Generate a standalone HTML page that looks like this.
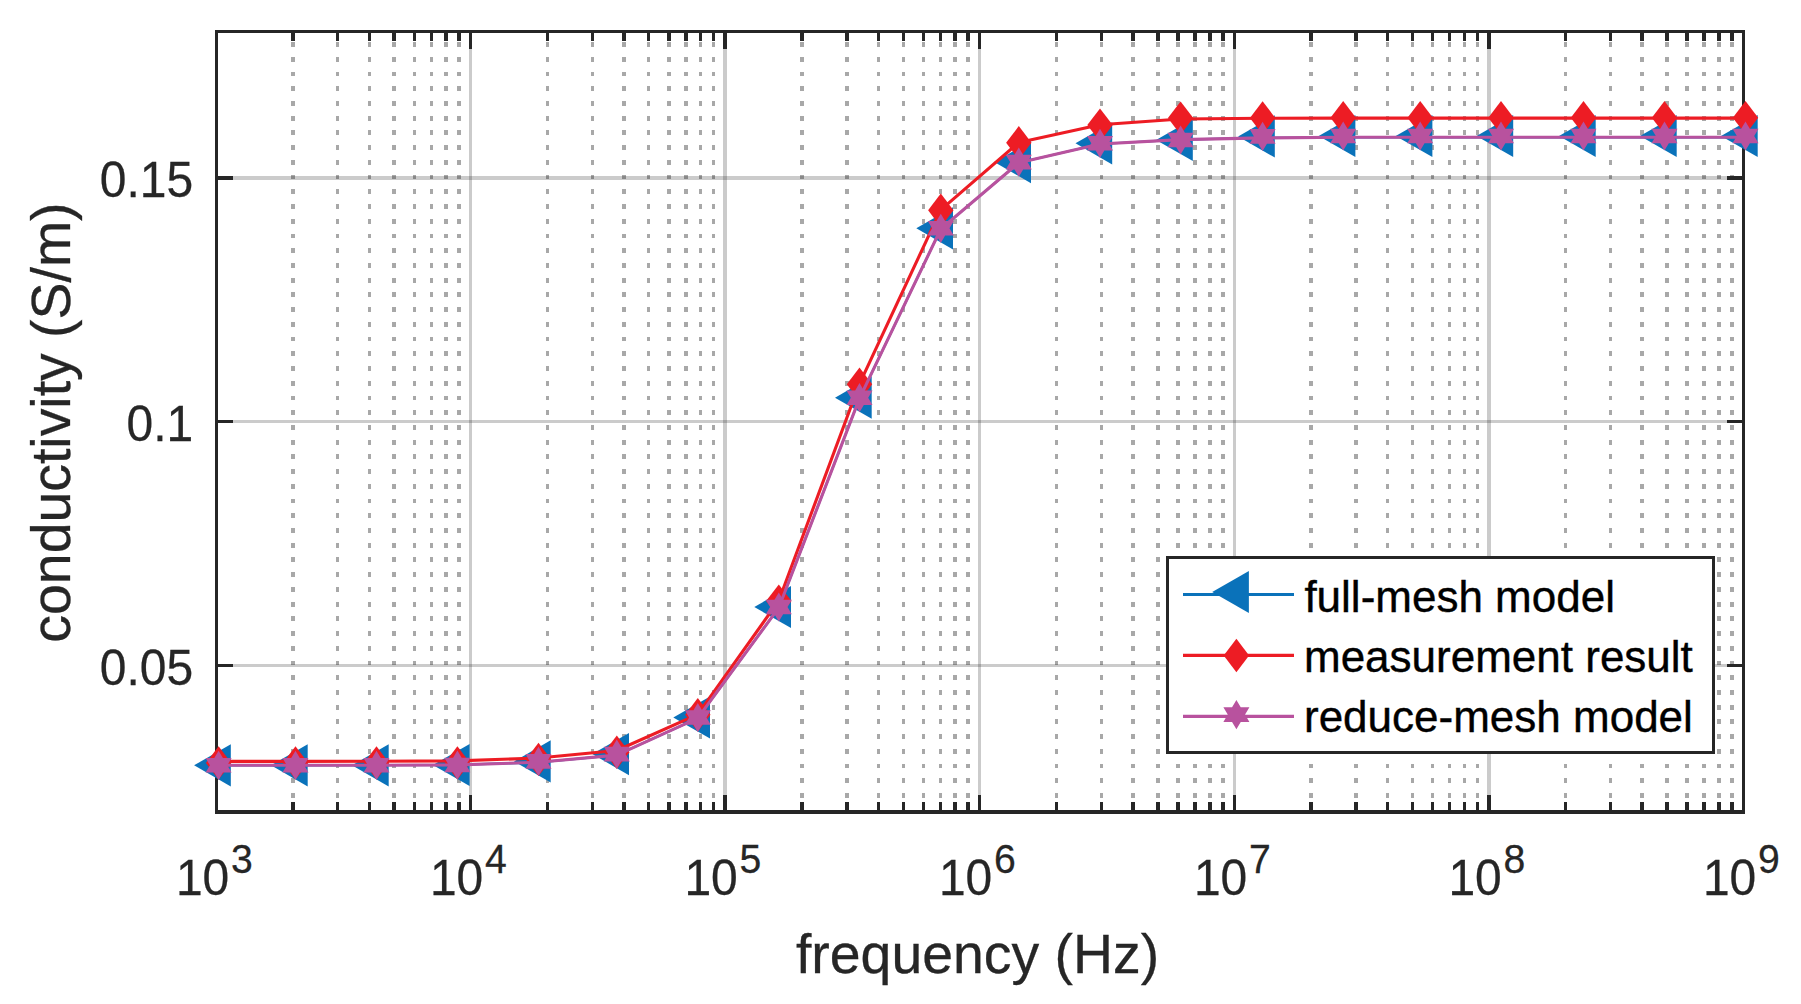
<!DOCTYPE html>
<html lang="en"><head><meta charset="utf-8"><title>conductivity vs frequency</title>
<style>html,body{margin:0;padding:0;background:#fff;overflow:hidden}svg{display:block}text{font-family:"Liberation Sans",Arial,Helvetica,sans-serif}</style>
</head><body>
<svg width="1801" height="1004" viewBox="0 0 1801 1004">
<rect x="0" y="0" width="1801" height="1004" fill="#fff"/>
<g stroke="#262626" stroke-opacity="0.40" stroke-width="3.33" stroke-dasharray="4.85 9.875" fill="none" shape-rendering="crispEdges">
<line x1="293.00" y1="42.1" x2="293.00" y2="801.00"/>
<line x1="337.50" y1="42.1" x2="337.50" y2="801.00"/>
<line x1="369.50" y1="42.1" x2="369.50" y2="801.00"/>
<line x1="394.00" y1="42.1" x2="394.00" y2="801.00"/>
<line x1="414.50" y1="42.1" x2="414.50" y2="801.00"/>
<line x1="431.50" y1="42.1" x2="431.50" y2="801.00"/>
<line x1="446.00" y1="42.1" x2="446.00" y2="801.00"/>
<line x1="459.00" y1="42.1" x2="459.00" y2="801.00"/>
<line x1="547.50" y1="42.1" x2="547.50" y2="801.00"/>
<line x1="592.50" y1="42.1" x2="592.50" y2="801.00"/>
<line x1="624.00" y1="42.1" x2="624.00" y2="801.00"/>
<line x1="648.50" y1="42.1" x2="648.50" y2="801.00"/>
<line x1="669.00" y1="42.1" x2="669.00" y2="801.00"/>
<line x1="686.00" y1="42.1" x2="686.00" y2="801.00"/>
<line x1="700.50" y1="42.1" x2="700.50" y2="801.00"/>
<line x1="713.50" y1="42.1" x2="713.50" y2="801.00"/>
<line x1="802.00" y1="42.1" x2="802.00" y2="801.00"/>
<line x1="847.00" y1="42.1" x2="847.00" y2="801.00"/>
<line x1="878.50" y1="42.1" x2="878.50" y2="801.00"/>
<line x1="903.50" y1="42.1" x2="903.50" y2="801.00"/>
<line x1="923.50" y1="42.1" x2="923.50" y2="801.00"/>
<line x1="940.50" y1="42.1" x2="940.50" y2="801.00"/>
<line x1="955.00" y1="42.1" x2="955.00" y2="801.00"/>
<line x1="968.00" y1="42.1" x2="968.00" y2="801.00"/>
<line x1="1056.50" y1="42.1" x2="1056.50" y2="801.00"/>
<line x1="1101.50" y1="42.1" x2="1101.50" y2="801.00"/>
<line x1="1133.00" y1="42.1" x2="1133.00" y2="801.00"/>
<line x1="1158.00" y1="42.1" x2="1158.00" y2="801.00"/>
<line x1="1178.00" y1="42.1" x2="1178.00" y2="801.00"/>
<line x1="1195.00" y1="42.1" x2="1195.00" y2="801.00"/>
<line x1="1210.00" y1="42.1" x2="1210.00" y2="801.00"/>
<line x1="1223.00" y1="42.1" x2="1223.00" y2="801.00"/>
<line x1="1311.00" y1="42.1" x2="1311.00" y2="801.00"/>
<line x1="1356.00" y1="42.1" x2="1356.00" y2="801.00"/>
<line x1="1387.50" y1="42.1" x2="1387.50" y2="801.00"/>
<line x1="1412.50" y1="42.1" x2="1412.50" y2="801.00"/>
<line x1="1432.50" y1="42.1" x2="1432.50" y2="801.00"/>
<line x1="1449.50" y1="42.1" x2="1449.50" y2="801.00"/>
<line x1="1464.50" y1="42.1" x2="1464.50" y2="801.00"/>
<line x1="1477.50" y1="42.1" x2="1477.50" y2="801.00"/>
<line x1="1565.50" y1="42.1" x2="1565.50" y2="801.00"/>
<line x1="1610.50" y1="42.1" x2="1610.50" y2="801.00"/>
<line x1="1642.00" y1="42.1" x2="1642.00" y2="801.00"/>
<line x1="1667.00" y1="42.1" x2="1667.00" y2="801.00"/>
<line x1="1687.00" y1="42.1" x2="1687.00" y2="801.00"/>
<line x1="1704.00" y1="42.1" x2="1704.00" y2="801.00"/>
<line x1="1719.00" y1="42.1" x2="1719.00" y2="801.00"/>
<line x1="1732.00" y1="42.1" x2="1732.00" y2="801.00"/>
</g>
<g stroke="#262626" stroke-opacity="0.24" stroke-width="3.33" fill="none" shape-rendering="crispEdges">
<line x1="470.50" y1="31.5" x2="470.50" y2="812.0"/>
<line x1="725.00" y1="31.5" x2="725.00" y2="812.0"/>
<line x1="979.50" y1="31.5" x2="979.50" y2="812.0"/>
<line x1="1234.50" y1="31.5" x2="1234.50" y2="812.0"/>
<line x1="1489.00" y1="31.5" x2="1489.00" y2="812.0"/>
<line x1="216.5" y1="665.50" x2="1743.5" y2="665.50"/>
<line x1="216.5" y1="421.50" x2="1743.5" y2="421.50"/>
<line x1="216.5" y1="178.00" x2="1743.5" y2="178.00"/>
</g>
<g stroke="#262626" stroke-width="3.33" fill="none" shape-rendering="crispEdges">
<line x1="293.00" y1="31.5" x2="293.00" y2="41"/>
<line x1="293.00" y1="812.0" x2="293.00" y2="802"/>
<line x1="337.50" y1="31.5" x2="337.50" y2="41"/>
<line x1="337.50" y1="812.0" x2="337.50" y2="802"/>
<line x1="369.50" y1="31.5" x2="369.50" y2="41"/>
<line x1="369.50" y1="812.0" x2="369.50" y2="802"/>
<line x1="394.00" y1="31.5" x2="394.00" y2="41"/>
<line x1="394.00" y1="812.0" x2="394.00" y2="802"/>
<line x1="414.50" y1="31.5" x2="414.50" y2="41"/>
<line x1="414.50" y1="812.0" x2="414.50" y2="802"/>
<line x1="431.50" y1="31.5" x2="431.50" y2="41"/>
<line x1="431.50" y1="812.0" x2="431.50" y2="802"/>
<line x1="446.00" y1="31.5" x2="446.00" y2="41"/>
<line x1="446.00" y1="812.0" x2="446.00" y2="802"/>
<line x1="459.00" y1="31.5" x2="459.00" y2="41"/>
<line x1="459.00" y1="812.0" x2="459.00" y2="802"/>
<line x1="547.50" y1="31.5" x2="547.50" y2="41"/>
<line x1="547.50" y1="812.0" x2="547.50" y2="802"/>
<line x1="592.50" y1="31.5" x2="592.50" y2="41"/>
<line x1="592.50" y1="812.0" x2="592.50" y2="802"/>
<line x1="624.00" y1="31.5" x2="624.00" y2="41"/>
<line x1="624.00" y1="812.0" x2="624.00" y2="802"/>
<line x1="648.50" y1="31.5" x2="648.50" y2="41"/>
<line x1="648.50" y1="812.0" x2="648.50" y2="802"/>
<line x1="669.00" y1="31.5" x2="669.00" y2="41"/>
<line x1="669.00" y1="812.0" x2="669.00" y2="802"/>
<line x1="686.00" y1="31.5" x2="686.00" y2="41"/>
<line x1="686.00" y1="812.0" x2="686.00" y2="802"/>
<line x1="700.50" y1="31.5" x2="700.50" y2="41"/>
<line x1="700.50" y1="812.0" x2="700.50" y2="802"/>
<line x1="713.50" y1="31.5" x2="713.50" y2="41"/>
<line x1="713.50" y1="812.0" x2="713.50" y2="802"/>
<line x1="802.00" y1="31.5" x2="802.00" y2="41"/>
<line x1="802.00" y1="812.0" x2="802.00" y2="802"/>
<line x1="847.00" y1="31.5" x2="847.00" y2="41"/>
<line x1="847.00" y1="812.0" x2="847.00" y2="802"/>
<line x1="878.50" y1="31.5" x2="878.50" y2="41"/>
<line x1="878.50" y1="812.0" x2="878.50" y2="802"/>
<line x1="903.50" y1="31.5" x2="903.50" y2="41"/>
<line x1="903.50" y1="812.0" x2="903.50" y2="802"/>
<line x1="923.50" y1="31.5" x2="923.50" y2="41"/>
<line x1="923.50" y1="812.0" x2="923.50" y2="802"/>
<line x1="940.50" y1="31.5" x2="940.50" y2="41"/>
<line x1="940.50" y1="812.0" x2="940.50" y2="802"/>
<line x1="955.00" y1="31.5" x2="955.00" y2="41"/>
<line x1="955.00" y1="812.0" x2="955.00" y2="802"/>
<line x1="968.00" y1="31.5" x2="968.00" y2="41"/>
<line x1="968.00" y1="812.0" x2="968.00" y2="802"/>
<line x1="1056.50" y1="31.5" x2="1056.50" y2="41"/>
<line x1="1056.50" y1="812.0" x2="1056.50" y2="802"/>
<line x1="1101.50" y1="31.5" x2="1101.50" y2="41"/>
<line x1="1101.50" y1="812.0" x2="1101.50" y2="802"/>
<line x1="1133.00" y1="31.5" x2="1133.00" y2="41"/>
<line x1="1133.00" y1="812.0" x2="1133.00" y2="802"/>
<line x1="1158.00" y1="31.5" x2="1158.00" y2="41"/>
<line x1="1158.00" y1="812.0" x2="1158.00" y2="802"/>
<line x1="1178.00" y1="31.5" x2="1178.00" y2="41"/>
<line x1="1178.00" y1="812.0" x2="1178.00" y2="802"/>
<line x1="1195.00" y1="31.5" x2="1195.00" y2="41"/>
<line x1="1195.00" y1="812.0" x2="1195.00" y2="802"/>
<line x1="1210.00" y1="31.5" x2="1210.00" y2="41"/>
<line x1="1210.00" y1="812.0" x2="1210.00" y2="802"/>
<line x1="1223.00" y1="31.5" x2="1223.00" y2="41"/>
<line x1="1223.00" y1="812.0" x2="1223.00" y2="802"/>
<line x1="1311.00" y1="31.5" x2="1311.00" y2="41"/>
<line x1="1311.00" y1="812.0" x2="1311.00" y2="802"/>
<line x1="1356.00" y1="31.5" x2="1356.00" y2="41"/>
<line x1="1356.00" y1="812.0" x2="1356.00" y2="802"/>
<line x1="1387.50" y1="31.5" x2="1387.50" y2="41"/>
<line x1="1387.50" y1="812.0" x2="1387.50" y2="802"/>
<line x1="1412.50" y1="31.5" x2="1412.50" y2="41"/>
<line x1="1412.50" y1="812.0" x2="1412.50" y2="802"/>
<line x1="1432.50" y1="31.5" x2="1432.50" y2="41"/>
<line x1="1432.50" y1="812.0" x2="1432.50" y2="802"/>
<line x1="1449.50" y1="31.5" x2="1449.50" y2="41"/>
<line x1="1449.50" y1="812.0" x2="1449.50" y2="802"/>
<line x1="1464.50" y1="31.5" x2="1464.50" y2="41"/>
<line x1="1464.50" y1="812.0" x2="1464.50" y2="802"/>
<line x1="1477.50" y1="31.5" x2="1477.50" y2="41"/>
<line x1="1477.50" y1="812.0" x2="1477.50" y2="802"/>
<line x1="1565.50" y1="31.5" x2="1565.50" y2="41"/>
<line x1="1565.50" y1="812.0" x2="1565.50" y2="802"/>
<line x1="1610.50" y1="31.5" x2="1610.50" y2="41"/>
<line x1="1610.50" y1="812.0" x2="1610.50" y2="802"/>
<line x1="1642.00" y1="31.5" x2="1642.00" y2="41"/>
<line x1="1642.00" y1="812.0" x2="1642.00" y2="802"/>
<line x1="1667.00" y1="31.5" x2="1667.00" y2="41"/>
<line x1="1667.00" y1="812.0" x2="1667.00" y2="802"/>
<line x1="1687.00" y1="31.5" x2="1687.00" y2="41"/>
<line x1="1687.00" y1="812.0" x2="1687.00" y2="802"/>
<line x1="1704.00" y1="31.5" x2="1704.00" y2="41"/>
<line x1="1704.00" y1="812.0" x2="1704.00" y2="802"/>
<line x1="1719.00" y1="31.5" x2="1719.00" y2="41"/>
<line x1="1719.00" y1="812.0" x2="1719.00" y2="802"/>
<line x1="1732.00" y1="31.5" x2="1732.00" y2="41"/>
<line x1="1732.00" y1="812.0" x2="1732.00" y2="802"/>
<line x1="470.50" y1="31.5" x2="470.50" y2="49"/>
<line x1="470.50" y1="812.0" x2="470.50" y2="795"/>
<line x1="725.00" y1="31.5" x2="725.00" y2="49"/>
<line x1="725.00" y1="812.0" x2="725.00" y2="795"/>
<line x1="979.50" y1="31.5" x2="979.50" y2="49"/>
<line x1="979.50" y1="812.0" x2="979.50" y2="795"/>
<line x1="1234.50" y1="31.5" x2="1234.50" y2="49"/>
<line x1="1234.50" y1="812.0" x2="1234.50" y2="795"/>
<line x1="1489.00" y1="31.5" x2="1489.00" y2="49"/>
<line x1="1489.00" y1="812.0" x2="1489.00" y2="795"/>
<line x1="216.5" y1="665.50" x2="233" y2="665.50"/>
<line x1="1743.5" y1="665.50" x2="1727" y2="665.50"/>
<line x1="216.5" y1="421.50" x2="233" y2="421.50"/>
<line x1="1743.5" y1="421.50" x2="1727" y2="421.50"/>
<line x1="216.5" y1="178.00" x2="233" y2="178.00"/>
<line x1="1743.5" y1="178.00" x2="1727" y2="178.00"/>
<rect x="216.5" y="31.5" width="1527.0" height="780.5"/>
</g>
<g fill="#0A72BA" stroke="none">
<polyline fill="none" stroke="#0A72BA" stroke-width="2.2" stroke-linejoin="round" points="218.60,765.30 295.50,765.30 376.50,765.20 457.40,764.90 538.50,762.30 616.80,755.10 697.80,718.20 778.80,607.70 859.50,398.40 940.80,229.00 1018.80,162.80 1100.00,144.00 1180.60,139.60 1262.60,137.90 1343.20,137.30 1420.20,137.30 1501.00,137.30 1583.50,137.30 1664.50,137.30 1745.50,137.30"/>
<polygon points="194.10,765.30 230.80,744.20 230.80,786.40"/>
<polygon points="271.00,765.30 307.70,744.20 307.70,786.40"/>
<polygon points="352.00,765.30 388.70,744.20 388.70,786.40"/>
<polygon points="432.90,765.00 469.60,743.90 469.60,786.10"/>
<polygon points="514.00,761.40 550.70,740.30 550.70,782.50"/>
<polygon points="592.30,754.10 629.00,733.00 629.00,775.20"/>
<polygon points="673.30,717.50 710.00,696.40 710.00,738.60"/>
<polygon points="754.30,607.00 791.00,585.90 791.00,628.10"/>
<polygon points="835.00,397.70 871.70,376.60 871.70,418.80"/>
<polygon points="916.30,228.30 953.00,207.20 953.00,249.40"/>
<polygon points="994.30,162.10 1031.00,141.00 1031.00,183.20"/>
<polygon points="1075.50,143.30 1112.20,122.20 1112.20,164.40"/>
<polygon points="1156.10,140.00 1192.80,118.90 1192.80,161.10"/>
<polygon points="1238.10,136.40 1274.80,115.30 1274.80,157.50"/>
<polygon points="1318.70,136.00 1355.40,114.90 1355.40,157.10"/>
<polygon points="1395.70,136.00 1432.40,114.90 1432.40,157.10"/>
<polygon points="1476.50,136.00 1513.20,114.90 1513.20,157.10"/>
<polygon points="1559.00,136.00 1595.70,114.90 1595.70,157.10"/>
<polygon points="1640.00,136.00 1676.70,114.90 1676.70,157.10"/>
<polygon points="1721.00,136.00 1757.70,114.90 1757.70,157.10"/>
</g>
<g fill="#ED1C24" stroke="none">
<polyline fill="none" stroke="#ED1C24" stroke-width="3.1" stroke-linejoin="round" points="218.60,761.40 295.50,761.40 376.50,761.30 457.40,760.90 538.50,758.00 616.80,750.50 697.80,714.40 778.80,600.70 859.50,383.80 940.80,209.80 1018.80,142.40 1100.00,124.70 1180.60,119.00 1262.60,118.20 1343.20,118.10 1420.20,118.10 1501.00,118.10 1583.50,118.10 1664.50,118.10 1745.50,118.10"/>
<polygon points="218.60,746.20 231.30,762.90 218.60,779.60 205.90,762.90"/>
<polygon points="295.50,746.20 308.20,762.90 295.50,779.60 282.80,762.90"/>
<polygon points="376.50,746.20 389.20,762.90 376.50,779.60 363.80,762.90"/>
<polygon points="457.40,746.20 470.10,762.90 457.40,779.60 444.70,762.90"/>
<polygon points="538.50,742.70 551.20,759.40 538.50,776.10 525.80,759.40"/>
<polygon points="616.80,735.50 629.50,752.20 616.80,768.90 604.10,752.20"/>
<polygon points="697.80,698.10 710.50,714.80 697.80,731.50 685.10,714.80"/>
<polygon points="778.80,584.40 791.50,601.10 778.80,617.80 766.10,601.10"/>
<polygon points="859.50,367.50 872.20,384.20 859.50,400.90 846.80,384.20"/>
<polygon points="940.80,193.50 953.50,210.20 940.80,226.90 928.10,210.20"/>
<polygon points="1018.80,126.10 1031.50,142.80 1018.80,159.50 1006.10,142.80"/>
<polygon points="1100.00,108.40 1112.70,125.10 1100.00,141.80 1087.30,125.10"/>
<polygon points="1180.60,101.40 1193.30,118.10 1180.60,134.80 1167.90,118.10"/>
<polygon points="1262.60,101.20 1275.30,117.90 1262.60,134.60 1249.90,117.90"/>
<polygon points="1343.20,101.10 1355.90,117.80 1343.20,134.50 1330.50,117.80"/>
<polygon points="1420.20,101.10 1432.90,117.80 1420.20,134.50 1407.50,117.80"/>
<polygon points="1501.00,101.10 1513.70,117.80 1501.00,134.50 1488.30,117.80"/>
<polygon points="1583.50,101.10 1596.20,117.80 1583.50,134.50 1570.80,117.80"/>
<polygon points="1664.50,101.10 1677.20,117.80 1664.50,134.50 1651.80,117.80"/>
<polygon points="1745.50,101.10 1758.20,117.80 1745.50,134.50 1732.80,117.80"/>
</g>
<g fill="#B8529E" stroke="none">
<polyline fill="none" stroke="#B8529E" stroke-width="3.1" stroke-linejoin="round" points="218.60,765.30 295.50,765.30 376.50,765.20 457.40,764.90 538.50,762.30 616.80,755.10 697.80,718.20 778.80,607.70 859.50,398.40 940.80,229.00 1018.80,162.80 1100.00,144.00 1180.60,139.60 1262.60,137.90 1343.20,137.30 1420.20,137.30 1501.00,137.30 1583.50,137.30 1664.50,137.30 1745.50,137.30"/>
<polygon points="218.60,750.70 222.94,758.00 231.62,758.00 227.28,765.30 231.62,772.60 222.94,772.60 218.60,779.90 214.26,772.60 205.58,772.60 209.92,765.30 205.58,758.00 214.26,758.00"/>
<polygon points="295.50,750.70 299.84,758.00 308.52,758.00 304.18,765.30 308.52,772.60 299.84,772.60 295.50,779.90 291.16,772.60 282.48,772.60 286.82,765.30 282.48,758.00 291.16,758.00"/>
<polygon points="376.50,750.70 380.84,758.00 389.52,758.00 385.18,765.30 389.52,772.60 380.84,772.60 376.50,779.90 372.16,772.60 363.48,772.60 367.82,765.30 363.48,758.00 372.16,758.00"/>
<polygon points="457.40,750.40 461.74,757.70 470.42,757.70 466.08,765.00 470.42,772.30 461.74,772.30 457.40,779.60 453.06,772.30 444.38,772.30 448.72,765.00 444.38,757.70 453.06,757.70"/>
<polygon points="538.50,746.80 542.84,754.10 551.52,754.10 547.18,761.40 551.52,768.70 542.84,768.70 538.50,776.00 534.16,768.70 525.48,768.70 529.82,761.40 525.48,754.10 534.16,754.10"/>
<polygon points="616.80,739.50 621.14,746.80 629.82,746.80 625.48,754.10 629.82,761.40 621.14,761.40 616.80,768.70 612.46,761.40 603.78,761.40 608.12,754.10 603.78,746.80 612.46,746.80"/>
<polygon points="697.80,702.90 702.14,710.20 710.82,710.20 706.48,717.50 710.82,724.80 702.14,724.80 697.80,732.10 693.46,724.80 684.78,724.80 689.12,717.50 684.78,710.20 693.46,710.20"/>
<polygon points="778.80,592.40 783.14,599.70 791.82,599.70 787.48,607.00 791.82,614.30 783.14,614.30 778.80,621.60 774.46,614.30 765.78,614.30 770.12,607.00 765.78,599.70 774.46,599.70"/>
<polygon points="859.50,383.10 863.84,390.40 872.52,390.40 868.18,397.70 872.52,405.00 863.84,405.00 859.50,412.30 855.16,405.00 846.48,405.00 850.82,397.70 846.48,390.40 855.16,390.40"/>
<polygon points="940.80,213.70 945.14,221.00 953.82,221.00 949.48,228.30 953.82,235.60 945.14,235.60 940.80,242.90 936.46,235.60 927.78,235.60 932.12,228.30 927.78,221.00 936.46,221.00"/>
<polygon points="1018.80,147.50 1023.14,154.80 1031.82,154.80 1027.48,162.10 1031.82,169.40 1023.14,169.40 1018.80,176.70 1014.46,169.40 1005.78,169.40 1010.12,162.10 1005.78,154.80 1014.46,154.80"/>
<polygon points="1100.00,128.70 1104.34,136.00 1113.02,136.00 1108.68,143.30 1113.02,150.60 1104.34,150.60 1100.00,157.90 1095.66,150.60 1086.98,150.60 1091.32,143.30 1086.98,136.00 1095.66,136.00"/>
<polygon points="1180.60,125.40 1184.94,132.70 1193.62,132.70 1189.28,140.00 1193.62,147.30 1184.94,147.30 1180.60,154.60 1176.26,147.30 1167.58,147.30 1171.92,140.00 1167.58,132.70 1176.26,132.70"/>
<polygon points="1262.60,121.80 1266.94,129.10 1275.62,129.10 1271.28,136.40 1275.62,143.70 1266.94,143.70 1262.60,151.00 1258.26,143.70 1249.58,143.70 1253.92,136.40 1249.58,129.10 1258.26,129.10"/>
<polygon points="1343.20,121.40 1347.54,128.70 1356.22,128.70 1351.88,136.00 1356.22,143.30 1347.54,143.30 1343.20,150.60 1338.86,143.30 1330.18,143.30 1334.52,136.00 1330.18,128.70 1338.86,128.70"/>
<polygon points="1420.20,121.40 1424.54,128.70 1433.22,128.70 1428.88,136.00 1433.22,143.30 1424.54,143.30 1420.20,150.60 1415.86,143.30 1407.18,143.30 1411.52,136.00 1407.18,128.70 1415.86,128.70"/>
<polygon points="1501.00,121.40 1505.34,128.70 1514.02,128.70 1509.68,136.00 1514.02,143.30 1505.34,143.30 1501.00,150.60 1496.66,143.30 1487.98,143.30 1492.32,136.00 1487.98,128.70 1496.66,128.70"/>
<polygon points="1583.50,121.40 1587.84,128.70 1596.52,128.70 1592.18,136.00 1596.52,143.30 1587.84,143.30 1583.50,150.60 1579.16,143.30 1570.48,143.30 1574.82,136.00 1570.48,128.70 1579.16,128.70"/>
<polygon points="1664.50,121.40 1668.84,128.70 1677.52,128.70 1673.18,136.00 1677.52,143.30 1668.84,143.30 1664.50,150.60 1660.16,143.30 1651.48,143.30 1655.82,136.00 1651.48,128.70 1660.16,128.70"/>
<polygon points="1745.50,121.40 1749.84,128.70 1758.52,128.70 1754.18,136.00 1758.52,143.30 1749.84,143.30 1745.50,150.60 1741.16,143.30 1732.48,143.30 1736.82,136.00 1732.48,128.70 1741.16,128.70"/>
</g>
<rect x="1167.5" y="557.5" width="546" height="195" fill="#fff" stroke="#262626" stroke-width="3.33" shape-rendering="crispEdges"/>
<g fill="#0A72BA"><line x1="1183" y1="594.5" x2="1294" y2="594.5" stroke="#0A72BA" stroke-width="3.1"/><polygon points="1212.20,592.00 1248.90,570.90 1248.90,613.10"/></g>
<g fill="#ED1C24"><line x1="1183" y1="655.4" x2="1294" y2="655.4" stroke="#ED1C24" stroke-width="3.1"/><polygon points="1236.40,638.80 1249.10,655.50 1236.40,672.20 1223.70,655.50"/></g>
<g fill="#B8529E"><line x1="1183" y1="716.4" x2="1294" y2="716.4" stroke="#B8529E" stroke-width="3.1"/><polygon points="1236.40,700.00 1240.74,707.30 1249.42,707.30 1245.08,714.60 1249.42,721.90 1240.74,721.90 1236.40,729.20 1232.06,721.90 1223.38,721.90 1227.72,714.60 1223.38,707.30 1232.06,707.30"/></g>
<g fill="#000" font-size="44px" stroke="#000" stroke-width="0.4">
<text x="1304.4" y="611.6">full-mesh model</text>
<text x="1304.0" y="671.7">measurement result</text>
<text x="1304.0" y="732.4">reduce-mesh model</text>
</g>
<g fill="#262626" stroke="#262626" stroke-width="0.25">
<text transform="translate(193.20,197.10) scale(1,1.045)" font-size="48px" text-anchor="end">0.15</text>
<text transform="translate(193.20,440.60) scale(1,1.045)" font-size="48px" text-anchor="end">0.1</text>
<text transform="translate(193.20,684.60) scale(1,1.045)" font-size="48px" text-anchor="end">0.05</text>
<text transform="translate(175.90,894.60) scale(1,1.045)" font-size="48px" text-anchor="start">10</text>
<text transform="translate(230.90,872.70) scale(1,1.045)" font-size="39.2px" text-anchor="start">3</text>
<text transform="translate(429.90,894.60) scale(1,1.045)" font-size="48px" text-anchor="start">10</text>
<text transform="translate(484.90,872.70) scale(1,1.045)" font-size="39.2px" text-anchor="start">4</text>
<text transform="translate(684.40,894.60) scale(1,1.045)" font-size="48px" text-anchor="start">10</text>
<text transform="translate(739.40,872.70) scale(1,1.045)" font-size="39.2px" text-anchor="start">5</text>
<text transform="translate(938.90,894.60) scale(1,1.045)" font-size="48px" text-anchor="start">10</text>
<text transform="translate(993.90,872.70) scale(1,1.045)" font-size="39.2px" text-anchor="start">6</text>
<text transform="translate(1193.90,894.60) scale(1,1.045)" font-size="48px" text-anchor="start">10</text>
<text transform="translate(1248.90,872.70) scale(1,1.045)" font-size="39.2px" text-anchor="start">7</text>
<text transform="translate(1448.40,894.60) scale(1,1.045)" font-size="48px" text-anchor="start">10</text>
<text transform="translate(1503.40,872.70) scale(1,1.045)" font-size="39.2px" text-anchor="start">8</text>
<text transform="translate(1702.90,894.60) scale(1,1.045)" font-size="48px" text-anchor="start">10</text>
<text transform="translate(1757.90,872.70) scale(1,1.045)" font-size="39.2px" text-anchor="start">9</text>
</g>
<g fill="#262626" font-size="55.4px" stroke="#262626" stroke-width="0.3">
<text x="977.6" y="972.8" text-anchor="middle">frequency (Hz)</text>
<text transform="translate(69.5,422.6) rotate(-90)" text-anchor="middle">conductivity (S/m)</text>
</g>
</svg></body></html>
